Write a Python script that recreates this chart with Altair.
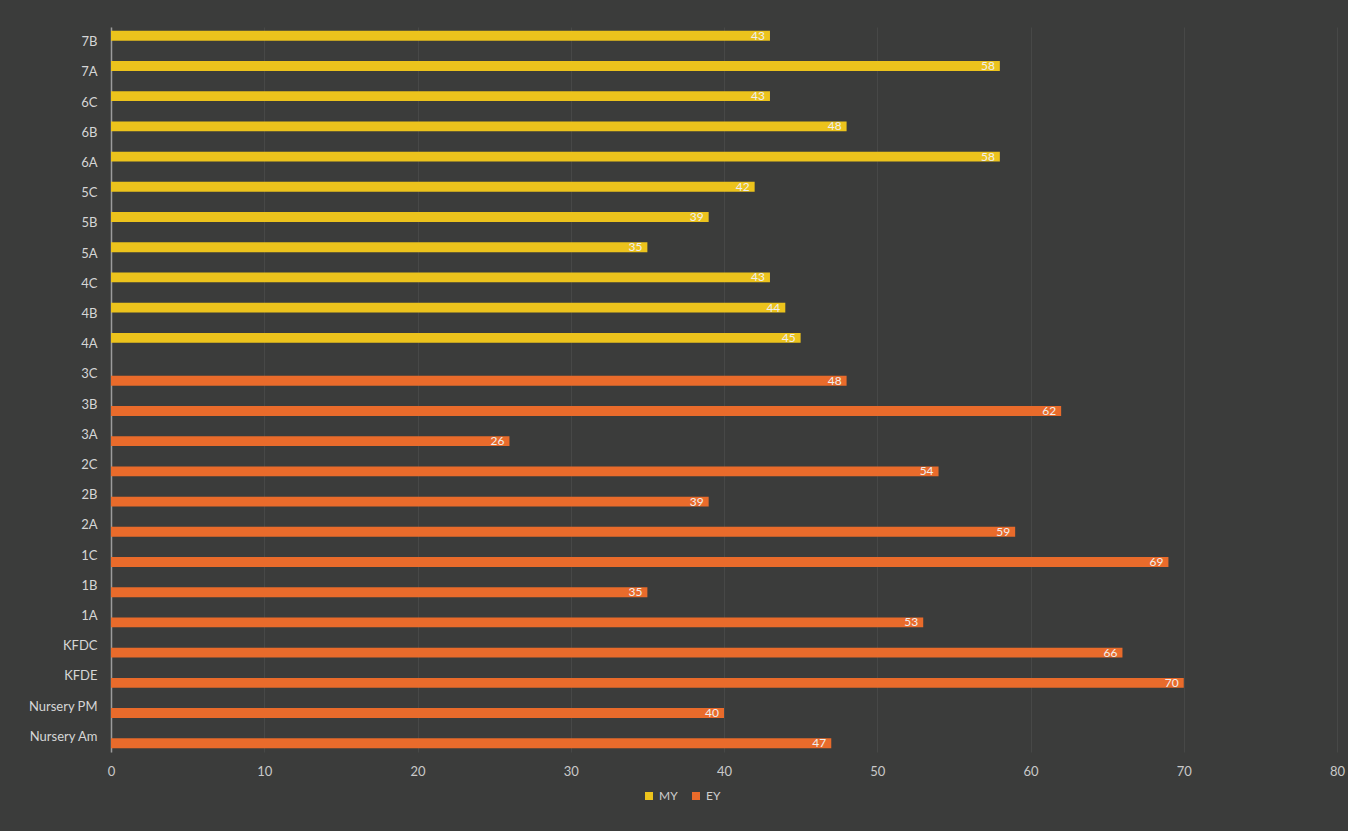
import altair as alt
import pandas as pd

# Class groups, listed top to bottom
classes = [
    "7B", "7A", "6C", "6B", "6A", "5C", "5B", "5A", "4C", "4B", "4A",
    "3C", "3B", "3A", "2C", "2B", "2A", "1C", "1B", "1A",
    "KFDC", "KFDE", "Nursery  PM", "Nursery Am",
]
groups = ["MY"] * 11 + ["EY"] * 13
scores = [
    43, 58, 43, 48, 58, 42, 39, 35, 43, 44, 45,
    48, 62, 26, 54, 39, 59, 69, 35, 53,
    66, 70, 40, 47,
]
series = ["MY", "EY"]
series_colors = ["#ecc31c", "#e96b2b"]
x_ticks = [0, 10, 20, 30, 40, 50, 60, 70, 80]

df = pd.DataFrame({"cls": classes, "grp": groups, "score": scores})

font = "Lato"

y_enc = alt.Y(
    "cls:N",
    sort=classes,
    scale=alt.Scale(paddingInner=0, paddingOuter=0),
    axis=alt.Axis(
        title=None,
        labelColor="#d6d6d6",
        labelFontSize=13,
        labelFont=font,
        ticks=False,
        domainColor="#9c9c9c",
        domainWidth=1.5,
        labelPadding=14,
        grid=False,
    ),
)
y_off = alt.YOffset(
    "grp:N",
    sort=series,
    scale=alt.Scale(domain=series, paddingInner=0.22, paddingOuter=0.3),
)
x_enc = alt.X(
    "score:Q",
    scale=alt.Scale(domain=[0, 80], nice=False),
    axis=alt.Axis(
        values=x_ticks,
        title=None,
        grid=True,
        gridColor="#474847",
        gridWidth=1,
        domain=False,
        ticks=False,
        labelColor="#c9c9c9",
        labelFontSize=13,
        labelFont=font,
        labelPadding=13,
        labelFlush=False,
    ),
)
color_enc = alt.Color(
    "grp:N",
    scale=alt.Scale(domain=series, range=series_colors),
    legend=alt.Legend(
        title=None,
        orient="none",
        legendX=532,
        legendY=763,
        direction="horizontal",
        symbolType="square",
        symbolSize=64,
        symbolStrokeWidth=0,
        labelColor="#cfcfcf",
        labelFontSize=12,
        labelFont=font,
        columnPadding=12,
    ),
)

bars = alt.Chart(df).mark_bar().encode(
    x=x_enc, y=y_enc, yOffset=y_off, color=color_enc
)

labels = alt.Chart(df).mark_text(
    align="right", baseline="middle", dx=-5, fontSize=12, font=font, color="#efefef"
).encode(
    x="score:Q",
    y=alt.Y("cls:N", sort=classes),
    yOffset=alt.YOffset("grp:N", sort=series),
    text="score:Q",
)

chart = (
    alt.layer(bars, labels)
    .properties(
        width=1226,
        height=725,
        autosize=alt.AutoSizeParams(type="none"),
        padding={"left": 111, "top": 27, "right": 11, "bottom": 79},
        background="#3b3c3b",
    )
    .configure_view(stroke=None)
)

chart.save("out.html", embed_options={"renderer": "svg", "actions": False})
